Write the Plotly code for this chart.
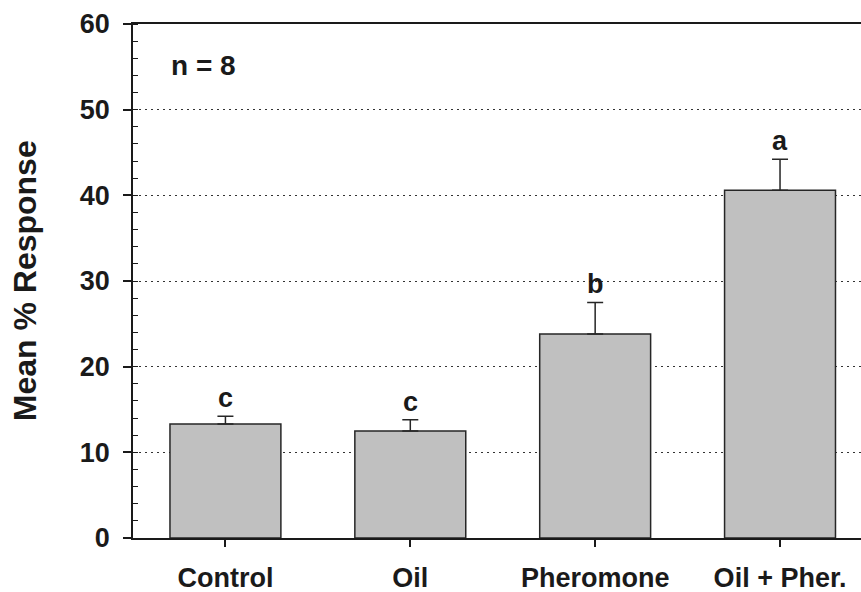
import plotly.graph_objects as go

categories = ["Control", "Oil", "Pheromone", "Oil + Pher."]
means = [13.3, 12.5, 23.8, 40.6]
sems = [0.9, 1.3, 3.7, 3.6]
letters = ["c", "c", "b", "a"]
y_ticks = [0, 10, 20, 30, 40, 50, 60]

FONT = "Liberation Sans"
INK = "#1a1a1a"

fig = go.Figure()
fig.add_trace(go.Bar(
    x=list(range(len(categories))),
    y=means,
    width=0.6,
    marker=dict(color="#c0c0c0", line=dict(color="#262626", width=1.5)),
    error_y=dict(type="data", symmetric=False, array=sems, arrayminus=[0] * len(sems),
                 color="#262626", thickness=1.5, width=8),
    showlegend=False,
))

for i, (m, s, l) in enumerate(zip(means, sems, letters)):
    fig.add_annotation(x=i, y=m + s, text=l, showarrow=False, yanchor="bottom", yshift=1,
                       font=dict(family=FONT, size=27, color=INK, weight=700))

fig.add_annotation(x=0.0975, y=0.92, xref="paper", yref="paper", text="n = 8", showarrow=False,
                   xanchor="center", yanchor="middle",
                   font=dict(family=FONT, size=28, color=INK, weight=700))

fig.update_layout(
    width=861, height=592,
    margin=dict(l=133, r=0, t=24, b=54),
    paper_bgcolor="white", plot_bgcolor="white",
    bargap=0.4,
)

fig.update_xaxes(
    range=[-0.5, 3.438],
    tickmode="array", tickvals=list(range(len(categories))), ticktext=categories,
    ticks="outside", ticklen=7, tickwidth=1.5, tickcolor=INK,
    showline=True, linecolor=INK, linewidth=1.5, mirror=True,
    showgrid=False, zeroline=False,
    tickfont=dict(family=FONT, size=27, color=INK, weight=700),
    ticklabelstandoff=8,
)

fig.update_yaxes(
    range=[0, 60],
    tickmode="array", tickvals=y_ticks,
    ticks="outside", ticklen=8, tickwidth=1.5, tickcolor=INK,
    minor=dict(ticks="inside", ticklen=5, dtick=2, tickwidth=1.2, tickcolor=INK, showgrid=False),
    showline=True, linecolor=INK, linewidth=1.5,
    showgrid=True, gridcolor="#333333", gridwidth=1, griddash="2px,4px",
    zeroline=False,
    tickfont=dict(family=FONT, size=27, color=INK, weight=700),
    ticklabelstandoff=8,
)

fig.add_annotation(x=-0.148, y=0.5, xref="paper", yref="paper", text="Mean % Response",
                   textangle=-90, showarrow=False, xanchor="center", yanchor="middle",
                   font=dict(family=FONT, size=32, color=INK, weight=700))

fig.write_html("out.html")
